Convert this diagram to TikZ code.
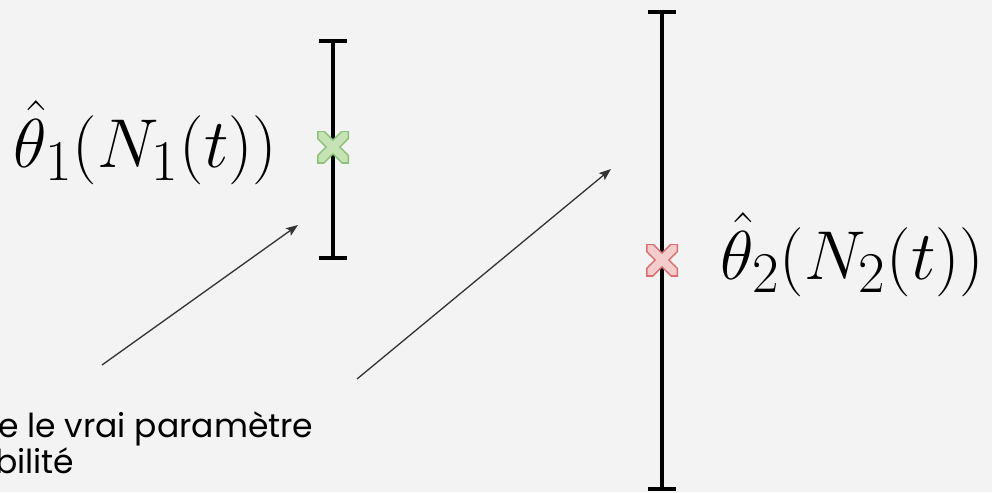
\documentclass[tikz,border=0pt]{standalone}
\usepackage{fontspec}
\newfontfamily\capfont{Poppins}
\usetikzlibrary{arrows.meta,calc}
\definecolor{bg}{HTML}{F3F3F3}
\definecolor{arrowgray}{HTML}{333333}
\definecolor{gfill}{HTML}{C6E3B5}
\definecolor{gline}{HTML}{8CC277}
\definecolor{rfill}{HTML}{F4CCCC}
\definecolor{rline}{HTML}{D9706F}
\tikzset{
  errbar/.style={line width=3.4pt, black},
  pointer/.style={arrowgray, line width=1.3pt, -{Stealth[length=12pt,width=9pt,inset=2.5pt]}},
  mathlabel/.style={inner sep=0pt, anchor=base west, font=\Huge, scale=2.78},
  caption/.style={inner sep=0pt, anchor=base west, font=\capfont\fontsize{33}{36}\selectfont},
}
\newcommand{\estmark}[3]{%
  \begin{scope}
    \clip (#1)++(-16,-16) rectangle ++(32,32);
    \draw[#2, line width=11pt] (#1)++(-18,-18) -- ++(36,36);
    \draw[#2, line width=11pt] (#1)++(-18,18) -- ++(36,-36);
  \end{scope}
  \begin{scope}
    \clip (#1)++(-14.5,-14.5) rectangle ++(29,29);
    \draw[#3, line width=8pt] (#1)++(-18,-18) -- ++(36,36);
    \draw[#3, line width=8pt] (#1)++(-18,18) -- ++(36,-36);
  \end{scope}}
\begin{document}
\begin{tikzpicture}[x=1pt,y=-1pt]
  \useasboundingbox (0,0) rectangle (992,492);
  \fill[bg] (0,0) rectangle (992,492);
  \clip (0,0) rectangle (992,492);
  % error bar 1
  \coordinate (b1top) at (333,41);
  \coordinate (b1bot) at (333,258);
  \coordinate (b1mid) at (333,147);
  \draw[errbar] (b1top) -- (b1bot);
  \draw[errbar] ($(b1top)+(-14,0)$) -- ($(b1top)+(14,0)$);
  \draw[errbar] ($(b1bot)+(-14,0)$) -- ($(b1bot)+(14,0)$);
  % error bar 2
  \coordinate (b2top) at (662,12);
  \coordinate (b2bot) at (662,489);
  \coordinate (b2mid) at (662,260);
  \draw[errbar] (b2top) -- (b2bot);
  \draw[errbar] ($(b2top)+(-14,0)$) -- ($(b2top)+(14,0)$);
  \draw[errbar] ($(b2bot)+(-14,0)$) -- ($(b2bot)+(14,0)$);
  % markers
  \estmark{b1mid}{gline}{gfill}
  \estmark{b2mid}{rline}{rfill}
  % labels
  \node[mathlabel] (l1) at (13,167) {$\hat\theta_1(N_1(t))$};
  \node[mathlabel] (l2) at (720,279) {$\hat\theta_2(N_2(t))$};
  % caption
  \node[caption] (c1) at (-2,437) {e le vrai paramètre};
  \node[caption] (c2) at (-5,473) {bilité};
  % arrows
  \coordinate (a1s) at (102,365);
  \coordinate (a1e) at (298,225);
  \coordinate (a2s) at (357,379);
  \coordinate (a2e) at (611,169);
  \draw[pointer] (a1s) -- (a1e);
  \draw[pointer] (a2s) -- (a2e);
\end{tikzpicture}
\end{document}
